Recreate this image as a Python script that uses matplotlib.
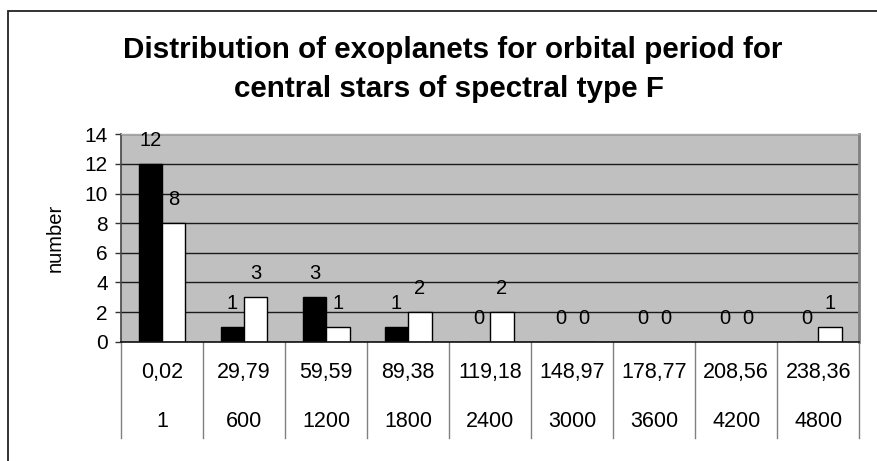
import matplotlib
matplotlib.use("Agg")
import matplotlib.pyplot as plt
from matplotlib.patches import Rectangle
import numpy as np

plt.rcParams['font.family'] = ['Liberation Sans', 'DejaVu Sans']

# ---- data ----
period_days = ["0,02", "29,79", "59,59", "89,38", "119,18", "148,97", "178,77", "208,56", "238,36"]
period_alt = ["1", "600", "1200", "1800", "2400", "3000", "3600", "4200", "4800"]
series_black = [12, 1, 3, 1, 0, 0, 0, 0, 0]
series_white = [8, 3, 1, 2, 2, 0, 0, 0, 1]
y_ticks = [0, 2, 4, 6, 8, 10, 12, 14]

W, H = 877, 461
fig = plt.figure(figsize=(W / 100, H / 100), dpi=100)
fig.patch.set_facecolor('white')

# chart frame (extends beyond the image on right and bottom)
fig.patches.append(Rectangle((8 / W, -0.1), 1.2, (1 - 11 / H) + 0.1,
                             transform=fig.transFigure, fill=False,
                             edgecolor='#222222', linewidth=1.3))

left, right, top, bottom = 121, 859.3, 134.3, 341.7
ax = fig.add_axes([left / W, 1 - bottom / H, (right - left) / W, (bottom - top) / H])
ax.set_facecolor('#C0C0C0')

n = len(period_days)
x = np.arange(n)
bw = 1 / 3.5
ax.bar(x - bw / 2, series_black, width=bw, color='black', edgecolor='black', linewidth=1, zorder=3)
ax.bar(x + bw / 2, series_white, width=bw, color='white', edgecolor='black', linewidth=1, zorder=3)

ax.set_xlim(-0.5, n - 0.5)
ax.set_ylim(0, 14)
ax.set_yticks(y_ticks)
ax.yaxis.grid(True, color='#1a1a1a', linewidth=1)
ax.set_axisbelow(True)
ax.tick_params(axis='y', length=4.5, width=1, pad=5, labelsize=15, color='#333333')
ax.set_xticks([])

ax.spines['top'].set_color('#A8A8A8')
ax.spines['top'].set_linewidth(1)
ax.spines['right'].set_color('#808080')
ax.spines['right'].set_linewidth(2)
ax.spines['left'].set_color('#444444')
ax.spines['left'].set_linewidth(1.2)
ax.spines['bottom'].set_color('#111111')
ax.spines['bottom'].set_linewidth(1.2)
ax.spines['bottom'].set_zorder(5)

# data labels
for xs, vals in ((x - bw / 2, series_black), (x + bw / 2, series_white)):
    for xi, v in zip(xs, vals):
        ax.annotate(str(v), (xi, v), xytext=(0, 16.8), textcoords='offset points',
                    ha='center', va='center', fontsize=14.5, zorder=6)

# category table below the axis
trans = ax.get_xaxis_transform()
ph = bottom - top
y_end = -(438.3 - bottom) / ph
for b in np.arange(n + 1) - 0.5:
    ax.plot([b, b], [0, y_end], transform=trans, clip_on=False,
            color='#808080', linewidth=1)
r1 = -(372.7 - bottom) / ph
r2 = -(421.5 - bottom) / ph
for xi, a, b2 in zip(x, period_days, period_alt):
    ax.text(xi, r1, a, transform=trans, ha='center', va='center', fontsize=15.5)
    ax.text(xi, r2, b2, transform=trans, ha='center', va='center', fontsize=15.5)

# y label
fig.text(55 / W, 1 - 237.5 / H, "number", rotation=90, ha='center', va='center', fontsize=14.5)

# title
fig.text(453 / W, 1 - 58.3 / H, "Distribution of exoplanets for orbital period for",
         ha='center', va='baseline', fontsize=21.3, fontweight='bold')
fig.text(449 / W, 1 - 96.7 / H, "central stars of spectral type F",
         ha='center', va='baseline', fontsize=21.3, fontweight='bold')

fig.savefig("out.png", dpi=100)
